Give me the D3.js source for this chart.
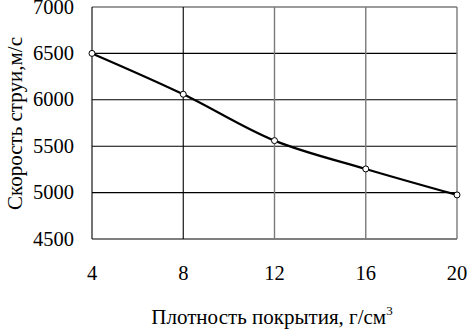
<!DOCTYPE html>
<html>
<head>
<meta charset="utf-8">
<script src="https://cdn.jsdelivr.net/npm/d3@7"></script>
<style>
  body { margin: 0; background: #fff; }
  #chart { position: relative; width: 473px; height: 330px; }
  #chart svg { position: absolute; left: 0; top: 0; }
  .lbl { position: absolute; font-family: "Liberation Serif", "Times New Roman", serif;
         font-size: 20.5px; line-height: 20.5px; height: 20.5px; color: #000; white-space: nowrap; }
  .ttl { font-size: 21px; line-height: 21px; height: 21px; }
  .lbl sup { font-size: 13px; line-height: 0; vertical-align: 9px; }
</style>
</head>
<body>
<div id="chart"></div>
<script>
// data
var density = [4, 8, 12, 16, 20];
var speed = [6500, 6060, 5560, 5255, 4975];
var xTicks = [4, 8, 12, 16, 20];
var yTicks = [4500, 5000, 5500, 6000, 6500, 7000];

var svgWidth = 473, svgHeight = 330;
var margin = { top: 7, left: 92, right: 16, bottom: 91 };
var chartWidth = svgWidth - margin.left - margin.right;
var chartHeight = svgHeight - margin.top - margin.bottom;

var chart = d3.select("#chart");
var svg = chart.append("svg")
  .attr("width", svgWidth)
  .attr("height", svgHeight);

var chartGroup = svg.append("g")
  .attr("transform", `translate(${margin.left}, ${margin.top})`);

var xScale = d3.scaleLinear().domain([4, 20]).range([0, chartWidth]);
var yScale = d3.scaleLinear().domain([4500, 7000]).range([chartHeight, 0]);

//grid lines - horizontal black, the inner verticals grey
chartGroup.selectAll(".hgrid")
  .data(yTicks)
  .enter().append("line")
  .attr("x1", 0).attr("x2", chartWidth)
  .attr("y1", d => yScale(d)).attr("y2", d => yScale(d))
  .attr("stroke", d => d == 7000 ? "#7a7a7a" : "#000")
  .attr("stroke-width", d => d == 7000 ? 1.3 : 1.1);

chartGroup.selectAll(".vgrid")
  .data(xTicks)
  .enter().append("line")
  .attr("x1", d => xScale(d)).attr("x2", d => xScale(d))
  .attr("y1", 0).attr("y2", chartHeight)
  .attr("stroke", d => d <= 8 ? "#000" : "#7a7a7a")
  .attr("stroke-width", d => d <= 8 ? 1.1 : 1.4);

//line
var line = d3.line()
  .x((d, i) => xScale(density[i]))
  .y(d => yScale(d))
  .curve(d3.curveCatmullRom);

chartGroup.append("path")
  .datum(speed)
  .attr("d", line)
  .attr("fill", "none")
  .attr("stroke", "#000")
  .attr("stroke-width", 2.2);

chartGroup.selectAll(".pt")
  .data(speed)
  .enter().append("circle")
  .attr("cx", (d, i) => xScale(density[i]))
  .attr("cy", d => yScale(d))
  .attr("r", 3)
  .attr("fill", "#fff")
  .attr("stroke", "#000")
  .attr("stroke-width", 1);

//tick labels as html text (serif font)
chart.selectAll(".ylbl")
  .data(yTicks)
  .enter().append("div")
  .attr("class", "lbl")
  .style("right", (svgWidth - 74) + "px")
  .style("top", d => (margin.top + yScale(d) - 10.4) + "px")
  .text(d => d);

chart.selectAll(".xlbl")
  .data(xTicks)
  .enter().append("div")
  .attr("class", "lbl")
  .style("left", d => (margin.left + xScale(d) - 30) + "px")
  .style("width", "60px")
  .style("text-align", "center")
  .style("top", "262.8px")
  .text(d => d);

//axis titles
chart.append("div")
  .attr("class", "lbl ttl")
  .style("left", "122px")
  .style("width", "300px")
  .style("text-align", "center")
  .style("top", "307.4px")
  .html("Плотность покрытия, г/см<sup>3</sup>");

chart.append("div")
  .attr("class", "lbl ttl")
  .style("left", (15 - 110) + "px")
  .style("width", "220px")
  .style("text-align", "center")
  .style("top", (123 - 10.5) + "px")
  .style("transform", "rotate(-90deg)")
  .text("Скорость струи,м/с");
</script>
</body>
</html>
